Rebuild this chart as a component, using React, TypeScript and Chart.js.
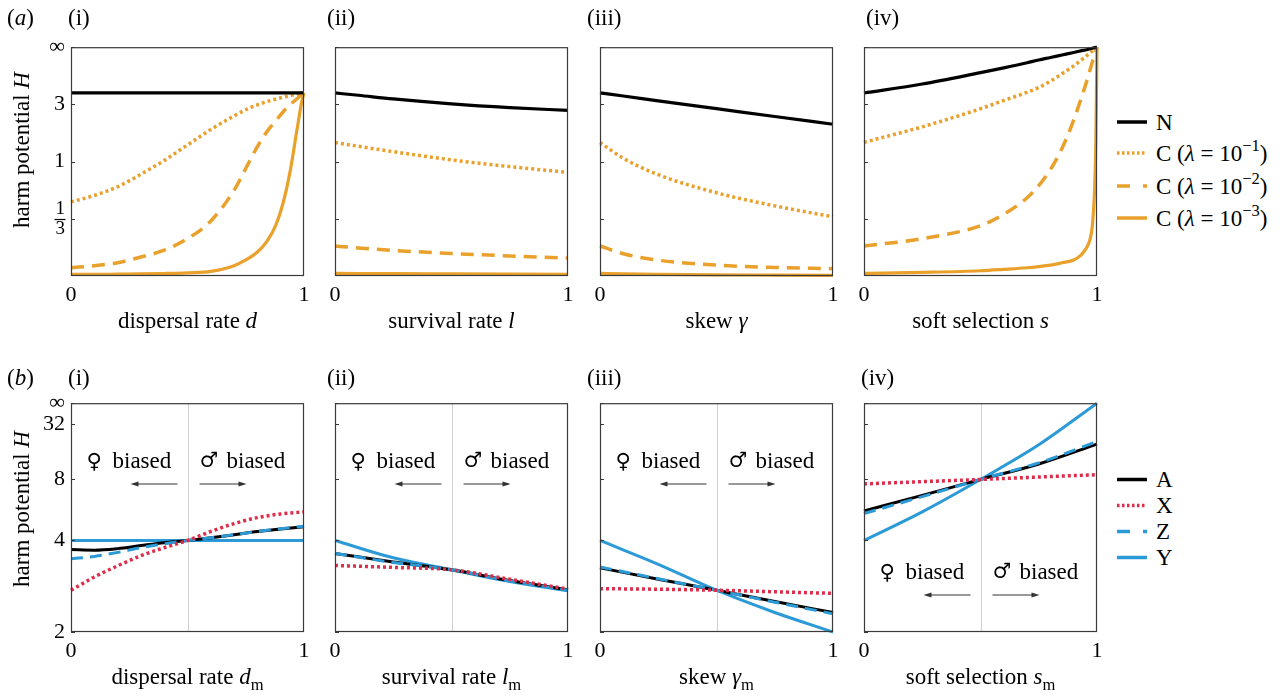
import React, { useEffect, useRef } from 'react';
import { Chart, registerables } from 'chart.js';

Chart.register(...registerables);

const FONT = '"Liberation Serif", "Times New Roman", "DejaVu Serif", serif';

// ---------------- data (harm potential H) ----------------
// Row (a)
const a1Grid = [0, 0.1, 0.2, 0.3, 0.4, 0.5, 0.6, 0.7, 0.75, 0.8, 0.84, 0.88, 0.91, 0.94, 0.97, 0.99, 1];
const a1N = [4, 4, 4, 4, 4, 4, 4, 4, 4, 4, 4, 4, 4, 4, 4, 4, 4];
const a1C1 = [0.479, 0.543, 0.639, 0.802, 1.02, 1.34, 1.78, 2.33, 2.66, 2.97, 3.2, 3.42, 3.57, 3.72, 3.88, 3.98, 4];
const a1C2 = [0.0373, 0.0471, 0.0616, 0.0905, 0.127, 0.195, 0.316, 0.6, 0.887, 1.3, 1.7, 2.125, 2.53, 2.97, 3.44, 3.83, 4];
const a1C3 = [0.007, 0.007, 0.008, 0.009, 0.011, 0.0142, 0.0204, 0.0471, 0.0753, 0.1173, 0.1765, 0.2903, 0.4663, 0.8349, 1.778, 3.167, 4];

const a2Grid = [0, 0.1, 0.25, 0.5, 0.75, 1];
const a2N = [4, 3.76, 3.42, 3.04, 2.79, 2.62];
const a2C1 = [1.4, 1.31, 1.19, 1.03, 0.916, 0.828];
const a2C2 = [0.151, 0.14, 0.126, 0.109, 0.096, 0.085];
const a2C3 = [0.0116, 0.011, 0.0101, 0.0091, 0.0081, 0.0072];

const a3Grid = [0, 0.1, 0.25, 0.5, 0.75, 1];
const a3N = [4, 3.69, 3.26, 2.72, 2.3, 1.97];
const a3C1 = [1.4, 1.06, 0.795, 0.572, 0.442, 0.349];
const a3C2 = [0.151, 0.108, 0.074, 0.05, 0.039, 0.033];
const a3C3 = [0.0116, 0.0095, 0.0075, 0.005, 0.004, 0.003];

const a4Grid = [0, 0.25, 0.5, 0.6, 0.7, 0.75, 0.8, 0.85, 0.9, 0.93, 0.95, 0.97, 0.98, 0.99, 0.995, 1];
const a4N = [4, 5.21, 8.01, 10.1, 13.7, 16.9, 21.2, 28.4, 42.5, 61.5, 82.3, 142, 221, 499, 999, Infinity];
const a4C1 = [1.404, 1.874, 2.717, 3.292, 4.076, 4.682, 5.711, 7.621, 11.2, 16.24, 22.81, 39, 57.8, 124, 249, Infinity];
const a4C2 = [0.151, 0.195, 0.282, 0.37, 0.52, 0.653, 0.869, 1.262, 2.135, 3.348, 4.952, 9.0, 14.38, 29.3, 61.5, Infinity];
const a4C3 = [0.0116, 0.0161, 0.0235, 0.0299, 0.0373, 0.0428, 0.0499, 0.0616, 0.0753, 0.0989, 0.13, 0.1905, 0.282, 0.629, 1.381, Infinity];

// Row (b)
const b1Grid = [0, 0.1, 0.2, 0.3, 0.4, 0.5, 0.6, 0.7, 0.8, 0.9, 1];
const b1A = [3.69, 3.67, 3.72, 3.82, 3.92, 4.0, 4.1, 4.22, 4.35, 4.46, 4.56];
const b1X = [2.67, 2.95, 3.22, 3.5, 3.75, 4.0, 4.35, 4.7, 5.0, 5.2, 5.32];
const b1Z = [3.41, 3.48, 3.6, 3.75, 3.88, 4.0, 4.1, 4.22, 4.35, 4.47, 4.58];
const b1Y = [4, 4, 4, 4, 4, 4, 4, 4, 4, 4, 4];

const b2Grid = [0, 0.25, 0.5, 0.75, 1];
const b2A = [3.57, 3.32, 3.12, 2.87, 2.68];
const b2X = [3.23, 3.18, 3.12, 2.9, 2.69];
const b2Z = [3.57, 3.31, 3.12, 2.86, 2.67];
const b2Y = [4.0, 3.44, 3.12, 2.85, 2.66];

const b3Grid = [0, 0.25, 0.5, 0.75, 1];
const b3A = [3.17, 2.9, 2.67, 2.46, 2.28];
const b3X = [2.7, 2.69, 2.67, 2.64, 2.61];
const b3Z = [3.19, 2.91, 2.67, 2.45, 2.26];
const b3Y = [4.0, 3.26, 2.67, 2.28, 2.0];

const b4Grid = [0, 0.25, 0.5, 0.75, 1];
const b4A = [5.37, 6.45, 8.0, 10.3, 15.8];
const b4X = [7.51, 7.75, 8.0, 8.3, 8.6];
const b4Z = [5.22, 6.35, 8.0, 10.5, 16.9];
const b4Y = [4.0, 5.32, 8.0, 15.5, Infinity];

// ticks
const aTickH = [1 / 3, 1, 3, Infinity];
const aTickLabels = ['1/3', '1', '3', '∞'];
const bTickH = [2, 4, 8, 32, Infinity];
const bTickLabels = ['2', '4', '8', '32', '∞'];
const xTicks = [0, 1];
const xTickLabels = ['0', '1'];

// ---------------- styling ----------------
const BLACK = '#000000';
const ORANGE = '#E9A12C';
const RED = '#DC2E4A';
const BLUE = '#2B9AD6';

// axis H -> H/(1+H)
const toScale = (h: number) => (h === Infinity ? 1 : h / (1 + h));

type Series = { values: number[]; color: string; width: number; dash: number[] };
type Panel = {
  grid: number[];
  series: Series[];
  row: 'a' | 'b';
  left: number;
  top: number;
  showLabels: boolean;
  mid: boolean;
};

const PW = 233;
const PH = 232;
const YW = 50;
const PT = 16;
const PR = 16;
const XH = 36;

const sA = (n: number[], c1: number[], c2: number[], c3: number[]): Series[] => [
  { values: n, color: BLACK, width: 3.2, dash: [] },
  { values: c1, color: ORANGE, width: 3.5, dash: [3, 3] },
  { values: c2, color: ORANGE, width: 3.5, dash: [13, 8] },
  { values: c3, color: ORANGE, width: 3.2, dash: [] },
];
const sB = (a: number[], x: number[], z: number[], y: number[]): Series[] => [
  { values: x, color: RED, width: 3.5, dash: [3, 3] },
  { values: z, color: BLUE, width: 3, dash: [12, 7] },
  { values: a, color: BLACK, width: 3, dash: [] },
  { values: y, color: BLUE, width: 3, dash: [] },
];

const LEFTS = [71, 335, 600, 864];
const TOP_A = 44;
const TOP_B = 400;

const panels: Panel[] = [
  { grid: a1Grid, series: sA(a1N, a1C1, a1C2, a1C3), row: 'a', left: LEFTS[0], top: TOP_A, showLabels: true, mid: false },
  { grid: a2Grid, series: sA(a2N, a2C1, a2C2, a2C3), row: 'a', left: LEFTS[1], top: TOP_A, showLabels: false, mid: false },
  { grid: a3Grid, series: sA(a3N, a3C1, a3C2, a3C3), row: 'a', left: LEFTS[2], top: TOP_A, showLabels: false, mid: false },
  { grid: a4Grid, series: sA(a4N, a4C1, a4C2, a4C3), row: 'a', left: LEFTS[3], top: TOP_A, showLabels: false, mid: false },
  { grid: b1Grid, series: sB(b1A, b1X, b1Z, b1Y), row: 'b', left: LEFTS[0], top: TOP_B, showLabels: true, mid: true },
  { grid: b2Grid, series: sB(b2A, b2X, b2Z, b2Y), row: 'b', left: LEFTS[1], top: TOP_B, showLabels: false, mid: true },
  { grid: b3Grid, series: sB(b3A, b3X, b3Z, b3Y), row: 'b', left: LEFTS[2], top: TOP_B, showLabels: false, mid: true },
  { grid: b4Grid, series: sB(b4A, b4X, b4Z, b4Y), row: 'b', left: LEFTS[3], top: TOP_B, showLabels: false, mid: true },
];

const FRAC_FONT = { family: FONT, size: 19, lineHeight: 1.05 };
const TICK_FONT = { family: FONT, size: 22 };
const Y_PAD = 6;

function ChartPanel({ p }: { p: Panel }) {
  const ref = useRef<HTMLCanvasElement>(null);
  const cw = YW + PW + PR;
  const ch = PT + PH + XH;
  useEffect(() => {
    const canvas = ref.current;
    if (!canvas) return;
    const tickH = p.row === 'a' ? aTickH : bTickH;
    const tickLabels = p.row === 'a' ? aTickLabels : bTickLabels;
    const yMin = p.row === 'a' ? 0 : toScale(2);
    const fracIdx = tickLabels.indexOf('1/3');

    const decor = {
      id: 'decor',
      beforeDatasetsDraw(chart: any) {
        const { ctx, chartArea: a, scales } = chart;
        if (p.mid) {
          const x = Math.round(scales.x.getPixelForValue(0.5)) + 0.5;
          ctx.save();
          ctx.strokeStyle = '#d0d0d0';
          ctx.lineWidth = 1;
          ctx.beginPath();
          ctx.moveTo(x, a.top);
          ctx.lineTo(x, a.bottom);
          ctx.stroke();
          ctx.restore();
        }
      },
      afterDatasetsDraw(chart: any) {
        const { ctx, chartArea: a, scales } = chart;
        ctx.save();
        ctx.strokeStyle = '#3a3a3a';
        ctx.lineWidth = 1;
        scales.y.ticks.forEach((t: any) => {
          const y = Math.round(scales.y.getPixelForValue(t.value)) + 0.5;
          ctx.beginPath();
          ctx.moveTo(a.left, y);
          ctx.lineTo(a.left + 4, y);
          ctx.stroke();
        });
        ctx.lineWidth = 1.2;
        ctx.strokeRect(a.left + 0.5, a.top + 0.5, a.right - a.left - 1, a.bottom - a.top - 1);
        if (p.showLabels && fracIdx >= 0) {
          const y = Math.round(scales.y.getPixelForValue(toScale(tickH[fracIdx]))) + 0.5;
          ctx.font = `${FRAC_FONT.size}px ${FONT}`;
          const w = Math.max(ctx.measureText('1').width, ctx.measureText('3').width);
          const xr = a.left - Y_PAD;
          ctx.strokeStyle = '#000';
          ctx.lineWidth = 1.2;
          ctx.beginPath();
          ctx.moveTo(xr - w - 1, y);
          ctx.lineTo(xr + 0.5, y);
          ctx.stroke();
        }
        ctx.restore();
      },
    };

    const chart = new Chart(canvas, {
      type: 'line',
      data: {
        datasets: p.series.map((s) => ({
          data: p.grid.map((x, i) => ({ x, y: toScale(s.values[i]) })),
          borderColor: s.color,
          backgroundColor: s.color,
          borderWidth: s.width,
          borderDash: s.dash,
          borderCapStyle: 'butt',
          pointRadius: 0,
          cubicInterpolationMode: 'monotone',
          fill: false,
          clip: false,
        })),
      },
      options: {
        responsive: false,
        maintainAspectRatio: false,
        animation: false,
        events: [],
        layout: { padding: { top: PT, right: PR, left: 0, bottom: 0 } },
        plugins: { legend: { display: false }, tooltip: { enabled: false } },
        scales: {
          x: {
            type: 'linear',
            min: 0,
            max: 1,
            grid: { display: false, drawTicks: false, tickLength: 0 },
            border: { display: false },
            afterBuildTicks: (s: any) => {
              s.ticks = xTicks.map((v) => ({ value: v }));
            },
            afterFit: (s: any) => {
              s.height = XH;
            },
            ticks: {
              autoSkip: false,
              maxRotation: 0,
              padding: 6,
              color: '#000',
              font: TICK_FONT,
              callback: (_v: any, i: number) => xTickLabels[i],
            },
          },
          y: {
            type: 'linear',
            min: yMin,
            max: 1,
            grid: { display: false, drawTicks: false, tickLength: 0 },
            border: { display: false },
            afterBuildTicks: (s: any) => {
              s.ticks = tickH.map((h) => ({ value: toScale(h) }));
            },
            afterFit: (s: any) => {
              s.width = YW;
            },
            ticks: {
              autoSkip: false,
              padding: Y_PAD,
              color: '#000',
              font: (c: any) => (c.index === fracIdx ? FRAC_FONT : TICK_FONT),
              callback: (_v: any, i: number) => {
                if (!p.showLabels) return '';
                const l = tickLabels[i];
                return l === '1/3' ? ['1', '3'] : l;
              },
            },
          },
        },
      },
      plugins: [decor],
    } as any);
    return () => chart.destroy();
  }, [p]);
  return (
    <canvas
      ref={ref}
      width={cw}
      height={ch}
      style={{ position: 'absolute', left: p.left - YW, top: p.top - PT, width: cw, height: ch }}
    />
  );
}

const Txt = ({ x, base, children, center, size = 23, family = FONT }: any) => (
  <div
    style={{
      position: 'absolute',
      left: x,
      top: base - 0.837 * size,
      fontFamily: family,
      fontSize: size,
      lineHeight: `${size}px`,
      whiteSpace: 'nowrap',
      color: '#000',
      transform: center ? 'translateX(-50%)' : undefined,
    }}
  >
    {children}
  </div>
);

const Sup = ({ children }: any) => (
  <span style={{ fontSize: '0.72em', position: 'relative', top: '-0.6em' }}>{children}</span>
);
const Sub = ({ children }: any) => (
  <span style={{ fontSize: '0.72em', position: 'relative', top: '0.35em' }}>{children}</span>
);

const YTitle = ({ cy }: { cy: number }) => (
  <div
    style={{
      position: 'absolute',
      left: 21,
      top: cy,
      fontFamily: FONT,
      fontSize: 23,
      lineHeight: '23px',
      whiteSpace: 'nowrap',
      transform: 'translate(-50%, -50%) rotate(-90deg)',
    }}
  >
    harm potential <i>H</i>
  </div>
);

const xTitlesA = [
  <>dispersal rate <i>d</i></>,
  <>survival rate <i>l</i></>,
  <>skew <i>γ</i></>,
  <>soft selection <i>s</i></>,
];
const xTitlesB = [
  <>dispersal rate <i>d</i><Sub>m</Sub></>,
  <>survival rate <i>l</i><Sub>m</Sub></>,
  <>skew <i>γ</i><Sub>m</Sub></>,
  <>soft selection <i>s</i><Sub>m</Sub></>,
];
const romans = ['(i)', '(ii)', '(iii)', '(iv)'];
const romanLeftA = [68, 327, 587, 866];
const romanLeftB = [68, 327, 587, 861];

const legendA = [
  { label: <>N</>, color: BLACK, dash: '', y: 122 },
  { label: <>C (<i>λ</i> = 10<Sup>−1</Sup>)</>, color: ORANGE, dash: '2.5 2.5', y: 153 },
  { label: <>C (<i>λ</i> = 10<Sup>−2</Sup>)</>, color: ORANGE, dash: '13 13', y: 186 },
  { label: <>C (<i>λ</i> = 10<Sup>−3</Sup>)</>, color: ORANGE, dash: '', y: 218 },
];
const legendB = [
  { label: <>A</>, color: BLACK, dash: '', y: 479.5 },
  { label: <>X</>, color: RED, dash: '2.5 2.5', y: 505.5 },
  { label: <>Z</>, color: BLUE, dash: '13 13', y: 531.5 },
  { label: <>Y</>, color: BLUE, dash: '', y: 557.5 },
];

const SYM_FONT = '"DejaVu Serif", "DejaVu Sans", serif';

export default function App() {
  useEffect(() => {
    document.body.style.margin = '0';
  }, []);
  const arrows: any[] = [];
  const biasTexts: any[] = [];
  LEFTS.forEach((l, i) => {
    const mid = l + PW / 2;
    const base = i === 3 ? 579 : 468;
    const ay = i === 3 ? 595 : 484;
    arrows.push({ x1: mid - 10, x2: mid - 57, y: ay });
    arrows.push({ x1: mid + 12, x2: mid + 59, y: ay });
    biasTexts.push(
      <React.Fragment key={'bt' + i}>
        <Txt x={mid - 101} base={base + 1} size={21} family={SYM_FONT}>♀</Txt>
        <Txt x={mid - 75} base={base}>biased</Txt>
        <Txt x={mid + 12} base={base} size={21} family={SYM_FONT}>♂</Txt>
        <Txt x={mid + 39} base={base}>biased</Txt>
      </React.Fragment>
    );
  });

  return (
    <div style={{ position: 'absolute', left: 0, top: 0, width: 1286, height: 697, background: '#fff', overflow: 'hidden' }}>
      {panels.map((p, i) => (
        <ChartPanel key={i} p={p} />
      ))}
      <Txt x={7} base={25.5}>(<i>a</i>)</Txt>
      <Txt x={7} base={385.5}>(<i>b</i>)</Txt>
      {romans.map((r, i) => (
        <React.Fragment key={r}>
          <Txt x={romanLeftA[i]} base={25.5}>{r}</Txt>
          <Txt x={romanLeftB[i]} base={385.5}>{r}</Txt>
          <Txt x={LEFTS[i] + PW / 2} base={328} center>{xTitlesA[i]}</Txt>
          <Txt x={LEFTS[i] + PW / 2} base={684} center>{xTitlesB[i]}</Txt>
        </React.Fragment>
      ))}
      <YTitle cy={150} />
      <YTitle cy={509} />
      {biasTexts}
      {legendA.concat(legendB).map((g, i) => (
        <Txt key={'lg' + i} x={1156} base={g.y + 8}>{g.label}</Txt>
      ))}
      <svg width={1286} height={697} style={{ position: 'absolute', left: 0, top: 0, pointerEvents: 'none' }}>
        {legendA.concat(legendB).map((g, i) => (
          <line
            key={'ll' + i}
            x1={1117}
            x2={1147}
            y1={g.y}
            y2={g.y}
            stroke={g.color}
            strokeWidth={3.5}
            strokeDasharray={g.dash || undefined}
          />
        ))}
        {arrows.map((a, i) => {
          const dir = a.x2 > a.x1 ? 1 : -1;
          return (
            <g key={'ar' + i}>
              <line x1={a.x1} x2={a.x2 - dir * 6} y1={a.y} y2={a.y} stroke="#333" strokeWidth={1} />
              <path
                d={`M ${a.x2} ${a.y} L ${a.x2 - dir * 8} ${a.y - 2.5} L ${a.x2 - dir * 8} ${a.y + 2.5} Z`}
                fill="#333"
              />
            </g>
          );
        })}
      </svg>
    </div>
  );
}
